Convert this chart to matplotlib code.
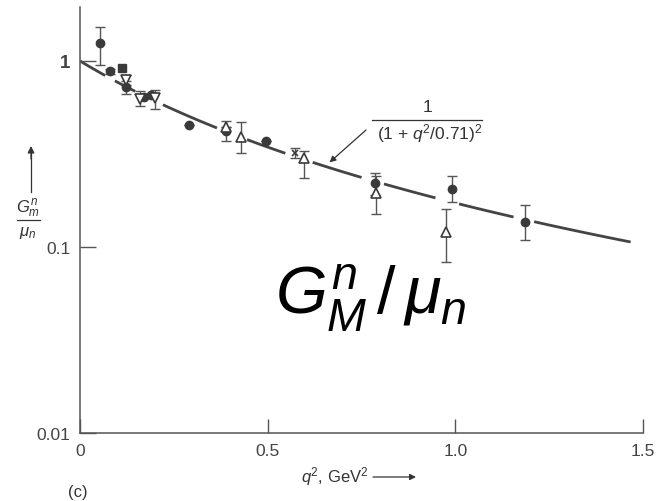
import matplotlib.pyplot as plt
import numpy as np

plt.rcParams['font.family'] = ['Liberation Sans', 'DejaVu Sans']
plt.rcParams['mathtext.fontset'] = 'custom'
plt.rcParams['mathtext.rm'] = 'Liberation Sans'
plt.rcParams['mathtext.it'] = 'Liberation Sans:italic'
plt.rcParams['mathtext.bf'] = 'Liberation Sans:bold'

# данные (q^2 в GeV^2, G/mu)
circ_q = [0.053, 0.08, 0.123, 0.17, 0.19, 0.29, 0.39, 0.496, 0.785, 0.99, 1.185]
circ_g = [1.25, 0.88, 0.72, 0.64, 0.66, 0.45, 0.42, 0.37, 0.22, 0.205, 0.136]
circ_lo = [0.95, 0.85, 0.665, 0.64, 0.66, 0.45, 0.37, 0.37, 0.19, 0.175, 0.109]
circ_hi = [1.52, 0.91, 0.78, 0.64, 0.66, 0.45, 0.475, 0.37, 0.25, 0.24, 0.168]

dtri_q = [0.123, 0.16, 0.20]
dtri_g = [0.79, 0.625, 0.63]
dtri_lo = [0.74, 0.57, 0.55]
dtri_hi = [0.84, 0.69, 0.70]

utri_q = [0.39, 0.43, 0.597, 0.789, 0.976]
utri_g = [0.44, 0.39, 0.30, 0.195, 0.12]
utri_lo = [0.44, 0.32, 0.235, 0.15, 0.083]
utri_hi = [0.44, 0.47, 0.33, 0.24, 0.16]

sq_q = [0.112]
sq_g = [0.92]

x_q = [0.573]
x_g = [0.32]
x_lo = [0.30]
x_hi = [0.34]

# куски кривой 1/(1+q^2/0.71)^2, видимые между точками
curve_start = [0.0, 0.093, 0.221, 0.445, 0.62, 0.81, 1.01, 1.21]
curve_end = [0.067, 0.147, 0.365, 0.547, 0.75, 0.947, 1.155, 1.467]

dark = '#3a3a3a'
grey = '#555555'

fig = plt.figure(figsize=(6.64, 5.02), dpi=100)
ax = fig.add_axes([80/664, 1-434/502, (643-80)/664, (434-8)/502])
ax.set_yscale('log')
ax.set_xlim(0, 1.5)
ax.set_ylim(0.01, 1.95)

for a, b in zip(curve_start, curve_end):
    q = np.linspace(a, b, 60)
    ax.plot(q, 1/(1+q/0.71)**2, color='#444444', lw=2, zorder=1, solid_capstyle='butt')

def series(xs, ys, lo=None, hi=None, **kw):
    xs = np.array(xs); ys = np.array(ys)
    if lo is not None:
        err = [ys-np.array(lo), np.array(hi)-ys]
        ax.errorbar(xs, ys, yerr=err, fmt='none', ecolor=grey, elinewidth=1,
                    capsize=3.5, capthick=1, zorder=3)
    ax.plot(xs, ys, ls='none', zorder=4, **kw)

series(circ_q, circ_g, circ_lo, circ_hi, marker='o', ms=6, mfc=dark, mec=dark)
series(dtri_q, dtri_g, dtri_lo, dtri_hi, marker='v', ms=7, mfc='white', mec=dark, mew=1.2)
series(utri_q, utri_g, utri_lo, utri_hi, marker='^', ms=7, mfc='white', mec=dark, mew=1.2)
series(sq_q, sq_g, marker='s', ms=6, mfc=dark, mec=dark)
series(x_q, x_g, x_lo, x_hi, marker='x', ms=4, mec=dark, mew=1.2)

for s in ['top', 'right']:
    ax.spines[s].set_visible(False)
for s in ['left', 'bottom']:
    ax.spines[s].set_color(grey)
    ax.spines[s].set_linewidth(1.1)

ax.set_xticks([0, 0.5, 1.0, 1.5])
ax.set_xticklabels(['0', '0.5', '1.0', '1.5'])
ax.set_yticks([0.01, 0.1, 1])
ax.set_yticklabels(['0.01', '0.1', '1'])
ax.yaxis.set_minor_locator(plt.NullLocator())
ax.tick_params(axis='x', direction='in', length=10, width=1, color=grey,
               labelsize=12.5, labelcolor='#444444', pad=7)
ax.tick_params(axis='y', direction='in', length=11.5, width=1, color=grey,
               labelsize=12.5, labelcolor='#444444', pad=7)
ax.get_yticklabels()[2].set_fontweight('bold')
ax.get_yticklabels()[2].set_fontsize(13.5)

def px(x, y):
    return x/664, 1-y/502

# подпись формулы и стрелка к кривой
fig.text(*px(428, 108), '1', ha='center', va='center', fontsize=12.5, color='#333333')
fig.add_artist(plt.Line2D([372/664, 482/664], [1-121/502, 1-121/502], color='#333333', lw=0.9))
fig.text(*px(430, 134), r'(1 + $q^2$/0.71)$^2$', ha='center', va='center',
         fontsize=12.5, color='#333333')
ax.annotate('', xy=(0.665, 0.285), xycoords='data',
            xytext=px(366, 131), textcoords='figure fraction',
            arrowprops=dict(arrowstyle='-|>', color='#333333', lw=0.9,
                            mutation_scale=9, shrinkA=0, shrinkB=0))

# большая надпись
fig.text(*px(275, 315), r'$G^n_M\,/\,\mu_n$', ha='left', va='baseline',
         fontsize=48, color='black')

# подпись оси y
fig.text(*px(28, 209), r'$G^n_m$', ha='center', va='center', fontsize=12, color='#333333')
fig.add_artist(plt.Line2D([17/664, 40/664], [1-221/502, 1-221/502], color='#333333', lw=0.9))
fig.text(*px(28, 233), r'$\mu_n$', ha='center', va='center', fontsize=12, color='#333333')
fig.add_artist(plt.Line2D([31/664, 31/664], [1-193/502, 1-152/502], color='#333333', lw=0.9))
ax.annotate('', xy=px(31, 147), xycoords='figure fraction',
            xytext=px(31, 160), textcoords='figure fraction',
            arrowprops=dict(arrowstyle='-|>', color='#333333', lw=0.9,
                            mutation_scale=10, shrinkA=0, shrinkB=0))

# подпись оси x
fig.text(*px(335, 477), r'$q^2$, GeV$^2$', ha='center', va='center', fontsize=12, color='#333333')
ax.annotate('', xy=px(416, 478), xycoords='figure fraction',
            xytext=px(373, 478), textcoords='figure fraction',
            arrowprops=dict(arrowstyle='-|>', color='#333333', lw=0.9,
                            mutation_scale=9, shrinkA=0, shrinkB=0))

fig.text(*px(78, 493), '(c)', ha='center', va='center', fontsize=12, color='#333333')

fig.savefig('out.png', dpi=100)
